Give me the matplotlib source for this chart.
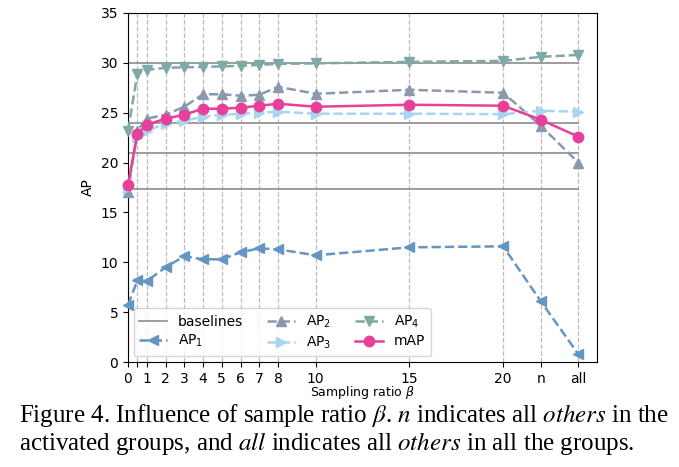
import numpy as np
import matplotlib.pyplot as plt

# x positions (0.5 has no label), "n" and "all" are placed at 22 and 24
x = [0, 0.5, 1, 2, 3, 4, 5, 6, 7, 8, 10, 15, 20, 22, 24]
tick_labels = ['0', '', '1', '2', '3', '4', '5', '6', '7', '8', '10', '15', '20', 'n', 'all']

ap1 = [5.7, 8.2, 8.1, 9.5, 10.6, 10.3, 10.3, 11.0, 11.4, 11.3, 10.7, 11.5, 11.6, 6.1, 0.8]
ap2 = [17.0, 23.2, 24.4, 24.8, 25.6, 26.85, 26.85, 26.7, 26.8, 27.6, 26.9, 27.3, 27.0, 23.7, 20.0]
ap3 = [17.5, 22.6, 23.2, 23.9, 24.2, 24.6, 24.8, 24.9, 25.0, 25.1, 24.9, 24.9, 24.85, 25.2, 25.1]
ap4 = [23.2, 28.9, 29.3, 29.5, 29.55, 29.6, 29.65, 29.7, 29.8, 29.9, 29.95, 30.1, 30.2, 30.6, 30.8]
mAP = [17.8, 22.9, 23.8, 24.4, 24.8, 25.4, 25.4, 25.5, 25.7, 25.9, 25.6, 25.8, 25.7, 24.3, 22.6]

baselines = [30.0, 24.0, 21.0, 17.3]

fig = plt.figure(figsize=(6.79, 4.67), dpi=100)
ax = fig.add_axes([128/679, 1 - 362/467, (597-128)/679, (362-13)/467])

for b in baselines:
    ax.plot([x[0], x[-1]], [b, b], color='#8c8c8c', linewidth=1.2, zorder=1)
base_handle = plt.Line2D([], [], color='#8c8c8c', linewidth=1.2)

kw = dict(linestyle='--', linewidth=1.8, markersize=7.5, clip_on=False, zorder=3)
l1, = ax.plot(x, ap1, marker='<', color='#6595c3', label='AP$_1$', **kw)
l2, = ax.plot(x, ap2, marker='^', color='#8a9aad', label='AP$_2$', **kw)
l3, = ax.plot(x, ap3, marker='>', color='#a9d5ee', label='AP$_3$', **kw)
l4, = ax.plot(x, ap4, marker='v', color='#7fa8a7', label='AP$_4$', **kw)
lm, = ax.plot(x, mAP, marker='o', color='#e6409b', linestyle='-', linewidth=1.8,
              markersize=7.5, clip_on=False, zorder=4, label='mAP')

ax.set_xlim(0, 25)
ax.set_ylim(0, 35)
ax.set_xticks(x)
ax.set_xticklabels(tick_labels, fontsize=10)
ax.tick_params(axis='y', labelsize=10)
ax.xaxis.grid(True, linestyle='--', color='#bbbbbb', linewidth=0.9)
ax.set_axisbelow(True)
ax.set_ylabel('AP', fontsize=10)
ax.set_xlabel(r'Sampling ratio $\beta$', fontsize=9, labelpad=-1)

ax.legend([base_handle, l1, l2, l3, l4, lm],
          ['baselines', 'AP$_1$', 'AP$_2$', 'AP$_3$', 'AP$_4$', 'mAP'],
          ncol=3, loc='lower left', fontsize=10, handlelength=2.0,
          columnspacing=1.7, labelspacing=0.3, borderaxespad=0.4)

serif = ['Liberation Serif', 'DejaVu Serif']
fig.text(19/679, 1 - 422/467,
         r'Figure 4. Influence of sample ratio $\beta$. $n$ indicates all $\it{others}$ in the',
         fontsize=18, family=serif, va='baseline', math_fontfamily='stix')
fig.text(19/679, 1 - 450/467,
         r'activated groups, and $\it{all}$ indicates all $\it{others}$ in all the groups.',
         fontsize=18, family=serif, va='baseline', math_fontfamily='stix')

fig.savefig('out.png', dpi=100)
